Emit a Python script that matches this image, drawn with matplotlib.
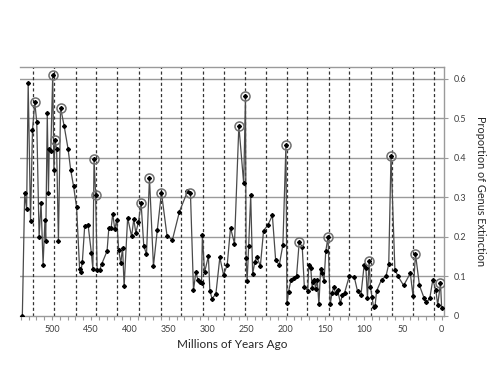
import numpy as np
import matplotlib
matplotlib.use('Agg')
import matplotlib.pyplot as plt
from matplotlib.ticker import MultipleLocator

plt.rcParams['font.family'] = ['Lato', 'DejaVu Sans']

# millions of years ago / proportion of genera going extinct
age = [538, 535, 532.5, 530.5, 527.5, 525, 522, 519.5, 516.5, 514,
       511.4, 509, 508, 506, 504.5, 503.5, 501.5, 499, 497.5, 496,
       494, 491.7, 489, 484.3, 479.3, 476, 472.3, 468.4, 464.5, 463,
       461, 458, 453.7, 449.4, 447.5, 446, 444, 442, 438.6, 436,
       429.3, 427, 424, 422, 419.4, 416.9, 414.4, 411.7, 409.4, 407.4,
       402.9, 397.8, 395, 392.4, 389, 385.6, 382.2, 378.7, 374.9, 369.8,
       364.8, 359.5, 352.4, 345.5, 336.4, 326.1, 322.3, 318.4, 315.4, 312.8,
       310.3, 308.1, 307, 304.2, 299.3, 297.4, 294.7, 289.7, 284.6, 279.9,
       275.2, 270.9, 265.8, 260.2, 254, 251.7, 250.9, 249.6, 247.6, 245,
       242.5, 239.7, 237.1, 232.6, 228.5, 223.2, 217.2, 213, 208.3, 203.7,
       199.8, 198.5, 196.5, 193.5, 190, 186.2, 182.8, 178.9, 176.2, 171.8,
       170.5, 168, 166.1, 164.8, 163.3, 161.8, 159.6, 157.5, 155.3, 153.2,
       150.9, 148.7, 145.8, 143, 140.6, 138.5, 136.1, 133.4, 129.9, 127.5,
       124.6, 118.6, 112.2, 107.9, 103.6, 99.5, 97.2, 95.2, 93.1, 91.4,
       89.3, 87.4, 85.5, 83.5, 77.1, 71.5, 67.9, 65, 60, 55.9,
       48.8, 40.2, 36.8, 33.6, 28.5, 22.7, 19.5, 15.2, 11.4, 7.5,
       5.1, 1.5, 0]
extinction = [0.0, 0.31, 0.27, 0.59, 0.24, 0.47, 0.54, 0.49, 0.20, 0.286,
              0.13, 0.242, 0.19, 0.513, 0.312, 0.423, 0.418, 0.61, 0.37, 0.444,
              0.422, 0.189, 0.527, 0.48, 0.422, 0.37, 0.328, 0.275, 0.118, 0.111,
              0.137, 0.227, 0.231, 0.159, 0.118, 0.398, 0.307, 0.116, 0.117, 0.132,
              0.164, 0.223, 0.223, 0.259, 0.219, 0.243, 0.167, 0.133, 0.173, 0.075,
              0.248, 0.201, 0.245, 0.21, 0.238, 0.285, 0.177, 0.156, 0.349, 0.126,
              0.218, 0.312, 0.203, 0.192, 0.264, 0.315, 0.31, 0.065, 0.111, 0.092,
              0.086, 0.083, 0.205, 0.11, 0.151, 0.064, 0.044, 0.055, 0.148, 0.104,
              0.128, 0.223, 0.183, 0.481, 0.335, 0.557, 0.147, 0.088, 0.177, 0.305,
              0.106, 0.137, 0.149, 0.126, 0.216, 0.229, 0.254, 0.141, 0.129, 0.18,
              0.432, 0.032, 0.06, 0.09, 0.096, 0.10, 0.186, 0.175, 0.074, 0.064,
              0.13, 0.122, 0.071, 0.087, 0.09, 0.069, 0.091, 0.029, 0.119, 0.108,
              0.088, 0.164, 0.199, 0.029, 0.059, 0.072, 0.058, 0.065, 0.032, 0.053,
              0.058, 0.10, 0.099, 0.062, 0.052, 0.128, 0.121, 0.046, 0.139, 0.074,
              0.047, 0.022, 0.024, 0.063, 0.092, 0.10, 0.131, 0.404, 0.117, 0.10,
              0.077, 0.108, 0.051, 0.157, 0.077, 0.046, 0.034, 0.045, 0.091, 0.066,
              0.028, 0.083, 0.02]

# peaks that are ringed in the original
peak_age = [522, 499, 496, 489, 446, 444, 385.6, 374.9, 359.5, 322.3,
            260.2, 251.7, 199.8, 182.8, 145.8, 93.1, 65, 33.6, 1.5]

# ~27 Myr periodic markers
period_lines = [9.9, 36.5, 64.2, 91.1, 118.6, 145, 172.5, 199, 225.5, 252.5,
                279.5, 306.8, 333.8, 360.7, 388, 416, 443, 469.5, 497, 524]

peak_val = [extinction[age.index(a)] for a in peak_age]

fig = plt.figure(figsize=(5, 3.82), dpi=100)
ax = fig.add_axes([0.04, 0.173, 0.848, 0.652])

ax.set_xlim(541, -3)
ax.set_ylim(0, 0.63)

for y in np.arange(0.1, 0.61, 0.1):
    ax.axhline(y, color='#9a9a9a', lw=1.0, zorder=1)
for x in period_lines:
    ax.axvline(x, color='#333333', lw=0.9, ls=(0, (2.5, 2)), zorder=1)

ax.plot(age, extinction, color='#4a4a4a', lw=0.9, marker='D', ms=2.0,
        mfc='black', mec='black', zorder=3)
ax.plot(peak_age, peak_val, ls='none', marker='o', ms=6.5, mfc='none',
        mec='#707070', mew=1.1, zorder=4)

ax.spines['left'].set_visible(False)
for side in ['top', 'right', 'bottom']:
    ax.spines[side].set_color('#9a9a9a')
    ax.spines[side].set_linewidth(1.0)

ax.yaxis.tick_right()
ax.yaxis.set_label_position('right')
ax.set_yticks(np.arange(0, 0.61, 0.1))
ax.set_yticklabels(['0', '0.1', '0.2', '0.3', '0.4', '0.5', '0.6'])
ax.xaxis.set_major_locator(MultipleLocator(50))
ax.xaxis.set_minor_locator(MultipleLocator(10))
ax.tick_params(axis='both', which='both', labelsize=6.5, colors='#9a9a9a',
               labelcolor='#404040', length=3, width=0.8)
ax.tick_params(axis='y', pad=4)

ax.set_xlabel('Millions of Years Ago', fontsize=8.5, color='#262626', labelpad=4)
ax.set_ylabel('Proportion of Genus Extinction', fontsize=7.8, color='#262626',
              rotation=-90, labelpad=14)

fig.savefig('out.png', dpi=100)
